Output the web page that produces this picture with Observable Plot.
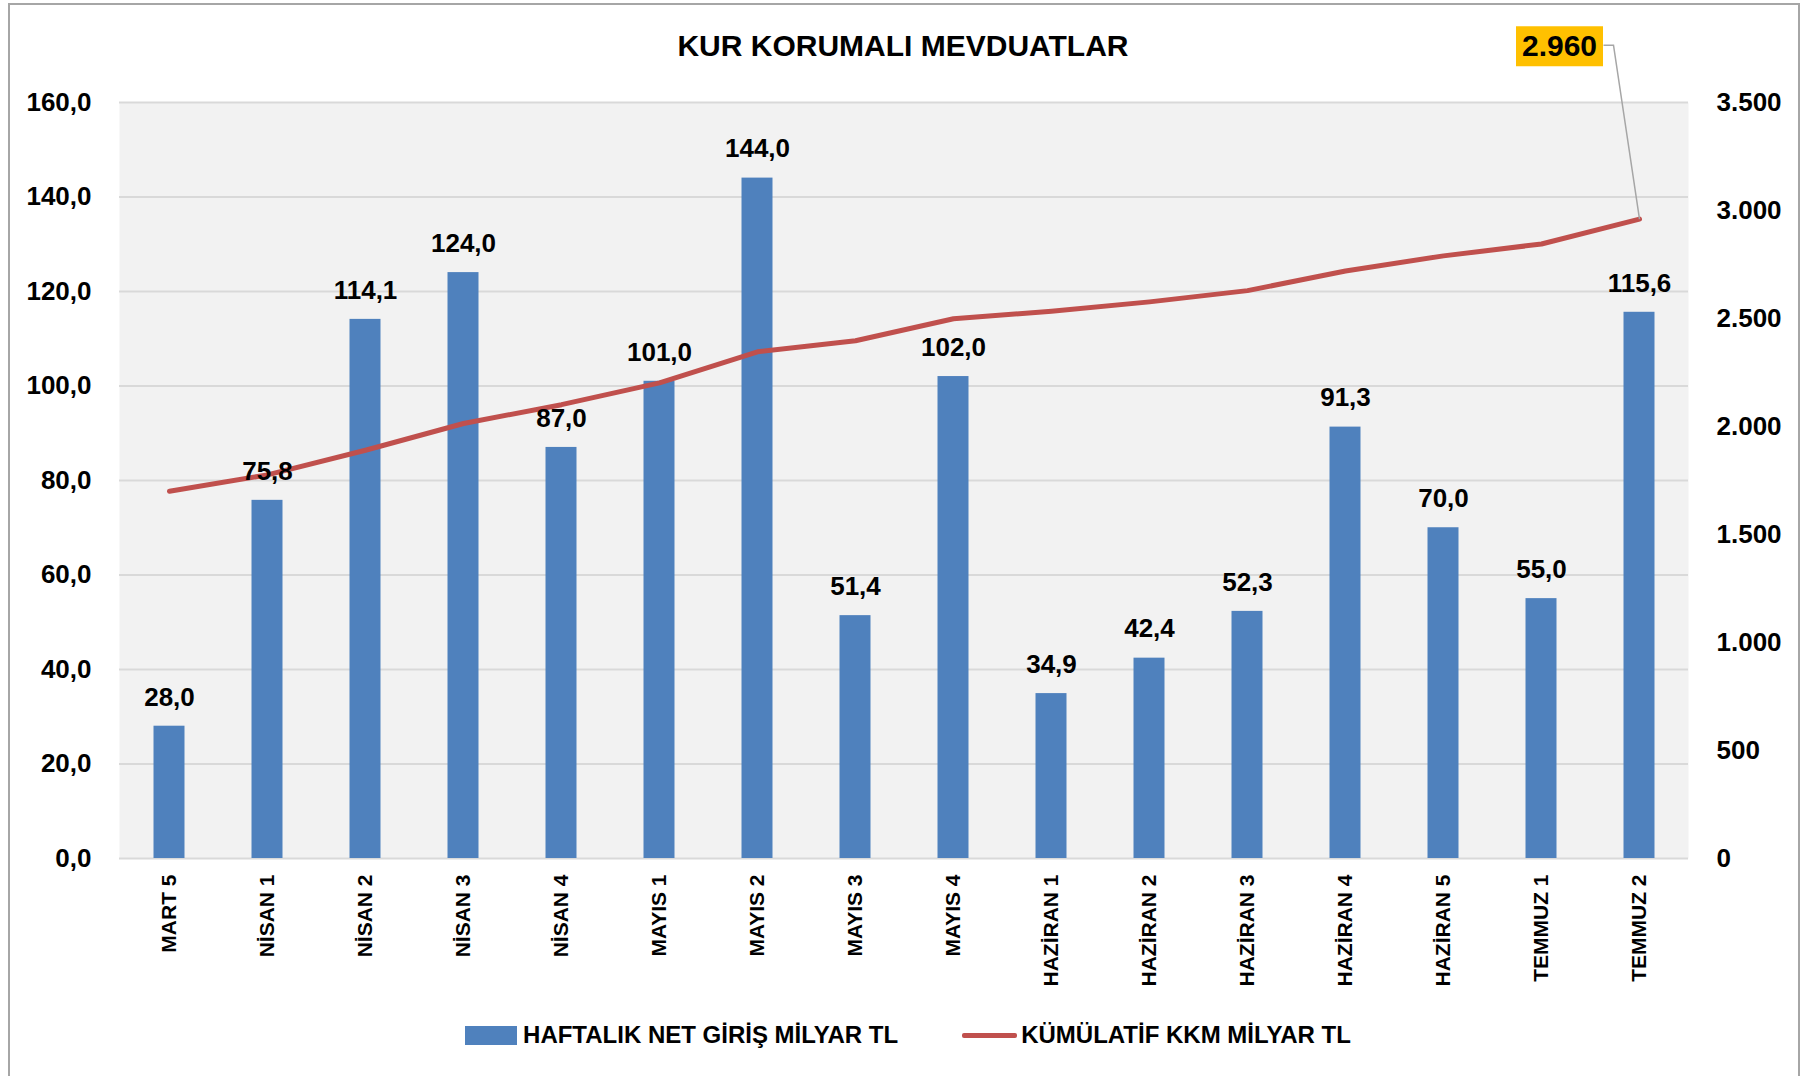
<!DOCTYPE html>
<html>
<head>
<meta charset="utf-8">
<script src="https://cdn.jsdelivr.net/npm/d3@7"></script>
<script src="https://cdn.jsdelivr.net/npm/@observablehq/plot@0.6"></script>
<style>
  html, body { margin: 0; padding: 0; background: #fff; overflow: hidden; }
  #wrap { position: relative; width: 1810px; height: 1076px; }
  #border { position: absolute; left: 8px; top: 3px; width: 1792px; height: 1100px; border: 2px solid #a6a6a6; box-sizing: border-box; }
  #title { position: absolute; left: 0; top: 29px; width: 1806px; text-align: center; font-family: 'Liberation Sans Narrow', 'Arial Narrow', sans-serif; font-weight: bold; font-size: 30px; color: #000; }
  #chart { position: absolute; left: 0; top: 0; }
  #legend { position: absolute; left: 0; top: 1021px; width: 1816px; display: flex; justify-content: center; align-items: center; font-family: 'Liberation Sans Narrow', 'Arial Narrow', sans-serif; font-weight: bold; font-size: 24px; color: #000; }
  .sw-bar { width: 52px; height: 19px; background: #4f81bd; margin-right: 6px; }
  .sw-line { width: 55px; height: 5px; background: #c0504d; margin-left: 64px; margin-right: 4px; border-radius: 2px; }
</style>
</head>
<body>
<div id="wrap">
  <div id="border"></div>
  <div id="chart"></div>
  <div id="title">KUR KORUMALI MEVDUATLAR</div>
  <div id="legend">
    <div class="sw-bar"></div><span id="lg1"></span>
    <div class="sw-line"></div><span id="lg2"></span>
  </div>
</div>
<script>
const categories = ["MART 5","NİSAN 1","NİSAN 2","NİSAN 3","NİSAN 4","MAYIS 1","MAYIS 2","MAYIS 3","MAYIS 4","HAZİRAN 1","HAZİRAN 2","HAZİRAN 3","HAZİRAN 4","HAZİRAN 5","TEMMUZ 1","TEMMUZ 2"];
const weeklyNet = [28.0, 75.8, 114.1, 124.0, 87.0, 101.0, 144.0, 51.4, 102.0, 34.9, 42.4, 52.3, 91.3, 70.0, 55.0, 115.6];
const cumulativeKKM = [1700, 1776, 1890, 2014, 2101, 2202, 2346, 2397, 2499, 2534, 2577, 2629, 2720, 2790, 2845, 2960];
const leftTicks = [0, 20, 40, 60, 80, 100, 120, 140, 160];
const rightTicks = [0, 500, 1000, 1500, 2000, 2500, 3000, 3500];
const seriesNames = ["HAFTALIK NET GİRİŞ MİLYAR TL", "KÜMÜLATİF KKM MİLYAR TL"];
const titleText = "KUR KORUMALI MEVDUATLAR";
const calloutValue = "2.960";

document.getElementById("title").textContent = titleText;
document.getElementById("lg1").textContent = seriesNames[0];
document.getElementById("lg2").textContent = seriesNames[1];

const LEFT_MAX = 160, RIGHT_MAX = 3500;
const toLeft = v => v * LEFT_MAX / RIGHT_MAX;
const fromLeft = v => v * RIGHT_MAX / LEFT_MAX;
const comma1 = v => v.toFixed(1).replace(".", ",");
const thousands = v => String(Math.round(v)).replace(/\B(?=(\d{3})+(?!\d))/g, ".");

const data = categories.map((c, i) => ({cat: c, weekly: weeklyNet[i], kkm: cumulativeKKM[i]}));
const last = [data[data.length - 1]];

const narrow = "'Liberation Sans Narrow', 'Arial Narrow', sans-serif";

const boxSymbol = { draw(ctx) { ctx.rect(-123.5, -193, 87, 40); } };
const leaderSymbol = { draw(ctx) { ctx.moveTo(-36, -174); ctx.lineTo(-26, -174); ctx.lineTo(0, 0); } };

const chart = Plot.plot({
  width: 1810,
  height: 1000,
  marginLeft: 119,
  marginRight: 122,
  marginTop: 102,
  marginBottom: 142,
  style: { fontFamily: narrow, fontWeight: "bold", fontSize: "26px", color: "#000", background: "transparent", overflow: "visible" },
  x: { type: "band", domain: categories, padding: 0 },
  y: { domain: [0, LEFT_MAX] },
  marks: [
    Plot.frame({ fill: "#f2f2f2", stroke: null }),
    Plot.gridY(leftTicks, { stroke: "#d9d9d9", strokeOpacity: 1, strokeWidth: 2 }),
    Plot.barY(data, { x: "cat", y: "weekly", fill: "#4f81bd", insetLeft: 33.5, insetRight: 33.5 }),
    Plot.line(data, { x: "cat", y: d => toLeft(d.kkm), stroke: "#c0504d", strokeWidth: 5, strokeLinejoin: "round", strokeLinecap: "round" }),
    Plot.text(data, { x: "cat", y: "weekly", text: d => comma1(d.weekly), dy: -29, fontSize: 26, fontWeight: "bold", fill: "#000" }),
    Plot.dot(last, { x: "cat", y: d => toLeft(d.kkm), symbol: leaderSymbol, r: 5, fill: "none", stroke: "#a6a6a6", strokeWidth: 1.5 }),
    Plot.dot(last, { x: "cat", y: d => toLeft(d.kkm), symbol: boxSymbol, r: 5, fill: "#ffc000", stroke: "none" }),
    Plot.text(last, { x: "cat", y: d => toLeft(d.kkm), text: () => calloutValue, dx: -80, dy: -173, fontSize: 30, fontWeight: "bold", fill: "#000" }),
    Plot.axisY(leftTicks, { anchor: "left", tickSize: 0, tickPadding: 28, tickFormat: comma1, label: null, fontSize: 26, fontWeight: "bold" }),
    Plot.axisY(rightTicks.map(toLeft), { anchor: "right", tickSize: 0, tickPadding: 28, tickFormat: d => thousands(fromLeft(d)), label: null, fontSize: 26, fontWeight: "bold" }),
    Plot.axisX({ tickRotate: -90, tickSize: 0, tickPadding: 16, label: null, fontSize: 21, fontWeight: "bold", fontFamily: "'Liberation Sans', Arial, sans-serif" })
  ]
});
document.getElementById("chart").appendChild(chart);
</script>
</body>
</html>
